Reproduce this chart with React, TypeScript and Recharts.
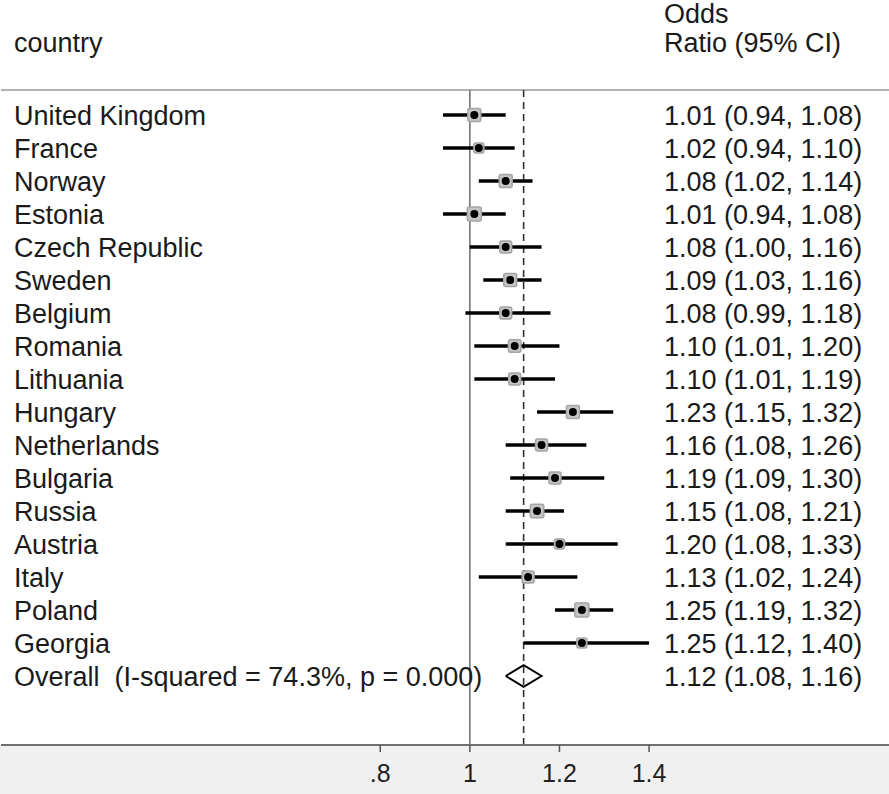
import React from 'react';
import {
    ScatterChart,
    Scatter,
    XAxis,
    YAxis,
    ErrorBar,
    ReferenceLine,
} from 'recharts';

// study rows, top to bottom
const countries = [
    'United Kingdom', 'France', 'Norway', 'Estonia', 'Czech Republic', 'Sweden',
    'Belgium', 'Romania', 'Lithuania', 'Hungary', 'Netherlands', 'Bulgaria',
    'Russia', 'Austria', 'Italy', 'Poland', 'Georgia',
];
const oddsRatio = [1.01, 1.02, 1.08, 1.01, 1.08, 1.09, 1.08, 1.10, 1.10, 1.23, 1.16, 1.19, 1.15, 1.20, 1.13, 1.25, 1.25];
const ciLower = [0.94, 0.94, 1.02, 0.94, 1.00, 1.03, 0.99, 1.01, 1.01, 1.15, 1.08, 1.09, 1.08, 1.08, 1.02, 1.19, 1.12];
const ciUpper = [1.08, 1.10, 1.14, 1.08, 1.16, 1.16, 1.18, 1.20, 1.19, 1.32, 1.26, 1.30, 1.21, 1.33, 1.24, 1.32, 1.40];
// study weights (%)
const weights = [7.0, 4.2, 7.0, 8.2, 6.0, 7.0, 6.0, 6.5, 6.0, 7.0, 6.0, 6.0, 7.6, 4.2, 6.0, 8.2, 4.2];

const overallLabel = 'Overall  (I-squared = 74.3%, p = 0.000)';
const overallOR = 1.12;
const overallLower = 1.08;
const overallUpper = 1.16;

const xTicks = [0.8, 1, 1.2, 1.4];

const FONT = '"Liberation Sans", Arial, Helvetica, sans-serif';
const FONT_SIZE = 27;
const fmt = (v: number) => v.toFixed(2);
const ciText = (or: number, lo: number, hi: number) => `${fmt(or)} (${fmt(lo)}, ${fmt(hi)})`;

const rows = countries.map((c, i) => ({
    name: c,
    x: oddsRatio[i],
    y: i,
    err: [oddsRatio[i] - ciLower[i], ciUpper[i] - oddsRatio[i]],
    weight: weights[i],
}));

const overallRow = countries.length;
const diamondHalf = 0.33;
const diamond = [
    {x: overallLower, y: overallRow},
    {x: overallOR, y: overallRow - diamondHalf},
    {x: overallUpper, y: overallRow},
    {x: overallOR, y: overallRow + diamondHalf},
    {x: overallLower, y: overallRow},
];

const rowLabels = [...countries, overallLabel];
const rowValues = [
    ...countries.map((_, i) => ciText(oddsRatio[i], ciLower[i], ciUpper[i])),
    ciText(overallOR, overallLower, overallUpper),
];
const rowTicks = rowLabels.map((_, i) => i);

const X_DOMAIN: [number, number] = [-0.0466, 1.9356];
const Y_DOMAIN: [number, number] = [-0.7576, 19.0909];

const renderRowTick = (props: any) => {
    const {y, payload} = props;
    const i = payload.value;
    return (
        <g key={`row-${i}`}>
            <text x={14} y={y} dy={9.7} fontSize={FONT_SIZE} fontFamily={FONT} fill="#1a1a1a"
                  style={{whiteSpace: 'pre'}}>
                {rowLabels[i]}
            </text>
            <text x={664} y={y} dy={9.7} fontSize={FONT_SIZE} fontFamily={FONT} fill="#1a1a1a">
                {rowValues[i]}
            </text>
        </g>
    );
};

const BoxShape = (props: any) => {
    const {cx, cy, payload} = props;
    const s = 4.9 * Math.sqrt(payload.weight);
    return (
        <rect x={cx - s / 2} y={cy - s / 2} width={s} height={s} rx={2}
              fill="#c4c4c4" stroke="#a4a4a4" strokeWidth={1.5}/>
    );
};

const DotShape = (props: any) => {
    const {cx, cy} = props;
    return <circle cx={cx} cy={cy} r={4} fill="#000"/>;
};

const NoShape = () => <g/>;

const App = () => {
    return (
        <div style={{
            position: 'relative',
            width: 889,
            height: 794,
            background: 'linear-gradient(to bottom, #ffffff 746px, #f0f0f0 746px)',
            fontFamily: FONT,
        }}>
            <style>{'body{margin:0}'}</style>
            <div style={{position: 'absolute', left: 14, top: 29, fontSize: FONT_SIZE, lineHeight: '29px', color: '#1a1a1a'}}>
                country
            </div>
            <div style={{position: 'absolute', left: 664, top: 0, fontSize: FONT_SIZE, lineHeight: '29px', color: '#1a1a1a'}}>
                Odds<br/>Ratio (95% CI)
            </div>
            <ScatterChart width={889} height={794} margin={{top: 90, right: 0, bottom: 0, left: 0}}
                          style={{position: 'absolute', left: 0, top: 0}}>
                <XAxis
                    type="number"
                    dataKey="x"
                    domain={X_DOMAIN}
                    allowDataOverflow
                    ticks={xTicks}
                    interval={0}
                    height={49}
                    tickSize={7}
                    tickMargin={12}
                    tickFormatter={(v: number) => (v < 1 ? String(v).replace(/^0/, '') : String(v))}
                    axisLine={{stroke: '#707070', strokeWidth: 2}}
                    tickLine={{stroke: '#555', strokeWidth: 1.5}}
                    tick={{fontSize: 25, fill: '#222', fontFamily: FONT}}
                />
                <YAxis
                    type="number"
                    dataKey="y"
                    domain={Y_DOMAIN}
                    allowDataOverflow
                    reversed
                    ticks={rowTicks}
                    interval={0}
                    width={1}
                    axisLine={false}
                    tickLine={false}
                    tick={renderRowTick}
                />
                <ReferenceLine y={Y_DOMAIN[0]} stroke="#9a9a9a" strokeWidth={1.5} ifOverflow="visible"/>
                <ReferenceLine x={1} stroke="#6a6a6a" strokeWidth={1.5}/>
                <ReferenceLine x={overallOR} stroke="#333" strokeWidth={1.6} strokeDasharray="7 5"/>
                <Scatter data={rows} shape={<BoxShape/>} isAnimationActive={false}/>
                <Scatter data={rows} shape={<DotShape/>} isAnimationActive={false}>
                    <ErrorBar dataKey="err" direction="x" width={0} stroke="#000" strokeWidth={3.5}/>
                </Scatter>
                <Scatter data={diamond} shape={<NoShape/>} line={{stroke: '#000', strokeWidth: 2}}
                         isAnimationActive={false}/>
            </ScatterChart>
        </div>
    );
};

export default App;
